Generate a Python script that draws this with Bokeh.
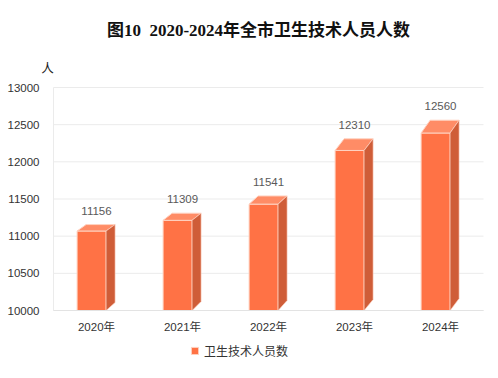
from bokeh.plotting import figure
from bokeh.models import Range1d, FixedTicker, Label, Legend, LegendItem, ColumnDataSource
from bokeh.embed import file_html
from bokeh.resources import INLINE

# ---- data ----
years = ["2020年", "2021年", "2022年", "2023年", "2024年"]
staff = [11156, 11309, 11541, 12310, 12560]
y_ticks = [10000, 10500, 11000, 11500, 12000, 12500, 13000]
title_text = "图10\u00a0 2020-2024年全市卫生技术人员人数"
unit_text = "人"
series_name = "卫生技术人员数"

# ---- layout (pixels in the figure) ----
W, H = 494, 374
PX_L, PX_R = 53, 483        # value-area left / right
PX_T, PX_B = 87, 310        # value-area top (13000) / bottom (10000)
Y0, Y1 = y_ticks[0], y_ticks[-1]
n = len(years)
xu = n / (PX_R - PX_L)
yu = (Y1 - Y0) / (PX_B - PX_T)
x_range = Range1d(-PX_L * xu, n + (W - PX_R) * xu)
y_range = Range1d(Y0 - (H - PX_B) * yu, Y1 + PX_T * yu)

FRONT = "#FF7245"
TOP = "#FF8C66"
SIDE = "#CF5D38"
EDGE = "#FFD3C2"
GRID = "#EBEBEB"
FONT = "Liberation Sans, Noto Sans CJK SC"

p = figure(width=W, height=H, output_backend="svg", toolbar_location=None,
           x_range=x_range, y_range=y_range,
           min_border_left=0, min_border_right=0, min_border_top=0, min_border_bottom=0)
p.outline_line_color = None
p.background_fill_color = "white"
p.border_fill_color = "white"
p.xgrid.visible = False
p.ygrid.visible = False

# gridlines across the value area
p.segment(x0=[0] * len(y_ticks), y0=y_ticks, x1=[n] * len(y_ticks), y1=y_ticks,
          line_color=GRID, line_width=1)
p.segment(x0=[0], y0=[Y0], x1=[0], y1=[Y1], line_color=GRID, line_width=1)

# pseudo-3D boxes
lefts, rights, fronts_top = [], [], []
top_xs, top_ys, side_xs, side_ys = [], [], [], []
for i, v in enumerate(staff):
    c = i + 0.5
    L = c - 19.4 * xu
    R = c + 9.6 * xu
    dx = 9.0 * xu
    h_px = (v - Y0) / yu
    dtop = (1.2 + 0.061 * h_px) * yu
    dbot = (8.0 + 1.0 * i) * yu
    ft = v - dtop
    lefts.append(L); rights.append(R); fronts_top.append(ft)
    top_xs.append([L, R, R + dx, L + dx])
    top_ys.append([ft, ft, v, v])
    side_xs.append([R, R + dx, R + dx, R])
    side_ys.append([ft, v, Y0 + dbot, Y0])

front = p.quad(left=lefts, right=rights, bottom=[Y0] * n, top=fronts_top,
               fill_color=FRONT, line_color=EDGE, line_width=1)
p.patches(top_xs, top_ys, fill_color=TOP, line_color=EDGE, line_width=1)
p.patches(side_xs, side_ys, fill_color=SIDE, line_color=EDGE, line_width=0.6)

src = ColumnDataSource(dict(x=[i + 0.5 for i in range(n)], y=staff, t=[str(v) for v in staff]))
p.text(x="x", y="y", text="t", source=src, text_align="center", text_baseline="middle",
       y_offset=-14, text_font_size="11.5px", text_color="#595959", text_font={"value": FONT})

# axes pinned to the value area
p.yaxis.ticker = FixedTicker(ticks=y_ticks)
p.xaxis.ticker = FixedTicker(ticks=[i + 0.5 for i in range(n)])
p.xaxis.major_label_overrides = {i + 0.5: y for i, y in enumerate(years)}
p.xaxis.fixed_location = Y0
p.yaxis.fixed_location = 0
p.xaxis.bounds = (0, n)
p.yaxis.bounds = (Y0, Y1)
for ax in (p.xaxis[0], p.yaxis[0]):
    ax.major_tick_line_color = None
    ax.minor_tick_line_color = None
    ax.major_label_text_font = FONT
    ax.major_label_text_font_size = "11.5px"
    ax.major_label_text_color = "#333333"
p.yaxis.axis_line_color = None
p.xaxis.axis_line_color = "#E3E3E3"
p.yaxis.major_label_standoff = 8
p.xaxis.major_label_standoff = 4

# title, unit and legend (screen units from the bottom-left of the figure)
p.add_layout(Label(x=258, y=H - 30, x_units="screen", y_units="screen",
                   text=title_text, text_align="center", text_baseline="middle",
                   text_font="Liberation Serif, Noto Sans CJK SC", text_font_style="bold",
                   text_font_size="17px", text_color="#111111"))
p.add_layout(Label(x=47, y=H - 68, x_units="screen", y_units="screen",
                   text=unit_text, text_align="center", text_baseline="middle",
                   text_font=FONT, text_font_size="12.5px", text_color="#222222"))

legend = Legend(items=[LegendItem(label=series_name, renderers=[front])],
                location=(190, H - 359), orientation="horizontal",
                glyph_width=9, glyph_height=9, label_height=12, label_standoff=5,
                padding=0, margin=0, spacing=0,
                border_line_color=None, background_fill_alpha=0,
                label_text_font=FONT, label_text_font_size="12px", label_text_color="#333333")
p.add_layout(legend, "center")

open("out.html", "w").write(file_html(p, INLINE))
